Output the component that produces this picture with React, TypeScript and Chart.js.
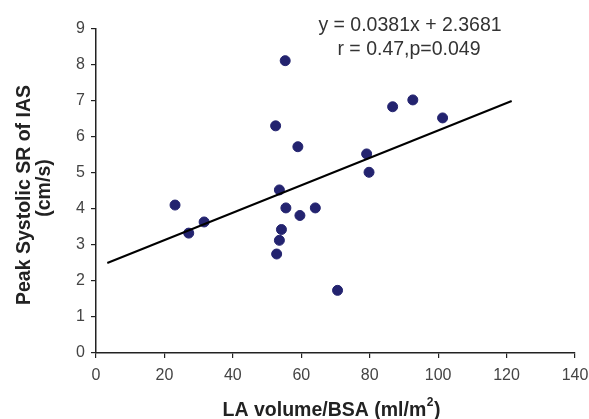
import React, { useEffect, useRef } from "react";
import { Chart, registerables } from "chart.js";

Chart.register(...registerables);

const laVolume: number[] = [55.3, 52.5, 59.0, 53.6, 23.1, 27.1, 31.6, 55.5, 59.6, 54.2, 53.6, 52.8, 64.1, 70.6, 79.1, 79.8, 86.7, 92.6, 101.3];
const peakSR: number[] = [8.12, 6.31, 5.73, 4.53, 4.11, 3.33, 3.64, 4.03, 3.82, 3.43, 3.13, 2.75, 4.03, 1.74, 5.53, 5.02, 6.84, 7.03, 6.53];
const trendX: number[] = [3.3, 121.5];
const trendY: number[] = [2.5, 7.0];
const xTicks: number[] = [0, 20, 40, 60, 80, 100, 120, 140];
const yTicks: number[] = [0, 1, 2, 3, 4, 5, 6, 7, 8, 9];
const annotationLines: string[] = ["y = 0.0381x + 2.3681", "r = 0.47,p=0.049"];
const yTitleLines: string[] = ["Peak Systolic SR of IAS", "(cm/s)"];
const xTitleMain = "LA volume/BSA (ml/m";
const xTitleSup = "2";
const xTitleEnd = ")";

const FONT = "'Liberation Sans', Arial, sans-serif";

const textPlugin = {
  id: "textPlugin",
  afterDraw(chart: any) {
    const ctx = chart.ctx;
    const area = chart.chartArea;
    ctx.save();
    // annotation
    ctx.fillStyle = "#333";
    ctx.font = `19.5px ${FONT}`;
    ctx.textAlign = "center";
    ctx.textBaseline = "alphabetic";
    ctx.fillText(annotationLines[0], 410, 31);
    ctx.fillText(annotationLines[1], 409, 55);
    // y title
    ctx.fillStyle = "#222";
    ctx.font = `bold 19.5px ${FONT}`;
    ctx.save();
    ctx.translate(30, 195);
    ctx.rotate(-Math.PI / 2);
    ctx.fillText(yTitleLines[0], 0, 0);
    ctx.restore();
    ctx.save();
    ctx.translate(50, 188);
    ctx.rotate(-Math.PI / 2);
    ctx.fillText(yTitleLines[1], 0, 0);
    ctx.restore();
    // x title with superscript
    ctx.font = `bold 19.5px ${FONT}`;
    const wMain = ctx.measureText(xTitleMain).width;
    ctx.font = `bold 12px ${FONT}`;
    const wSup = ctx.measureText(xTitleSup).width;
    ctx.font = `bold 19.5px ${FONT}`;
    const wClose = ctx.measureText(xTitleEnd).width;
    const total = wMain + wSup + wClose + 1;
    const x0 = (area.left + area.right) / 2 - 4 - total / 2;
    ctx.textAlign = "left";
    ctx.fillText(xTitleMain, x0, 416);
    ctx.font = `bold 12px ${FONT}`;
    ctx.fillText(xTitleSup, x0 + wMain + 0.5, 406);
    ctx.font = `bold 19.5px ${FONT}`;
    ctx.fillText(xTitleEnd, x0 + wMain + wSup + 1, 416);
    ctx.restore();
  },
};

export default function App() {
  const ref = useRef<HTMLCanvasElement | null>(null);
  useEffect(() => {
    if (!ref.current) return;
    const chart = new Chart(ref.current, {
      type: "scatter",
      data: {
        datasets: [
          {
            type: "line",
            data: trendX.map((x, i) => ({ x, y: trendY[i] })),
            borderColor: "#000",
            borderWidth: 2,
            pointRadius: 0,
            fill: false,
          } as any,
          {
            data: laVolume.map((x, i) => ({ x, y: peakSR[i] })),
            backgroundColor: "#23236f",
            borderColor: "#23236f",
            borderWidth: 1,
            pointRadius: 5,
            pointStyle: "circle",
          },
        ],
      },
      plugins: [textPlugin],
      options: {
        animation: false,
        responsive: false,
        maintainAspectRatio: false,
        layout: { padding: { top: 29, right: 14, left: 0, bottom: 0 } },
        plugins: { legend: { display: false }, tooltip: { enabled: false } },
        scales: {
          x: {
            type: "linear",
            min: 0,
            max: 140,
            afterBuildTicks: (s: any) => {
              s.ticks = xTicks.map((v) => ({ value: v }));
            },
            afterFit: (s: any) => {
              s.height = 66;
              s.paddingLeft = 0;
              s.paddingRight = 0;
            },
            grid: { drawOnChartArea: false, drawTicks: true, tickLength: 5, color: "#222", lineWidth: 1.2 },
            border: { display: true, color: "#222", width: 1.5 },
            ticks: { color: "#444", font: { family: FONT, size: 16 }, padding: 8, maxRotation: 0 },
          },
          y: {
            type: "linear",
            min: 0,
            max: 9,
            afterBuildTicks: (s: any) => {
              s.ticks = yTicks.map((v) => ({ value: v }));
            },
            afterFit: (s: any) => {
              s.width = 96;
              s.paddingTop = 0;
              s.paddingBottom = 0;
            },
            grid: { drawOnChartArea: false, drawTicks: true, tickLength: 5, color: "#222", lineWidth: 1.2 },
            border: { display: true, color: "#222", width: 1.5 },
            ticks: { color: "#444", font: { family: FONT, size: 16 }, padding: 6 },
          },
        },
      },
    });
    return () => chart.destroy();
  }, []);
  return (
    <div style={{ position: "fixed", left: 0, top: 0, width: 589, height: 419, background: "#fff" }}>
      <canvas ref={ref} width={589} height={419} style={{ width: 589, height: 419 }} />
    </div>
  );
}
